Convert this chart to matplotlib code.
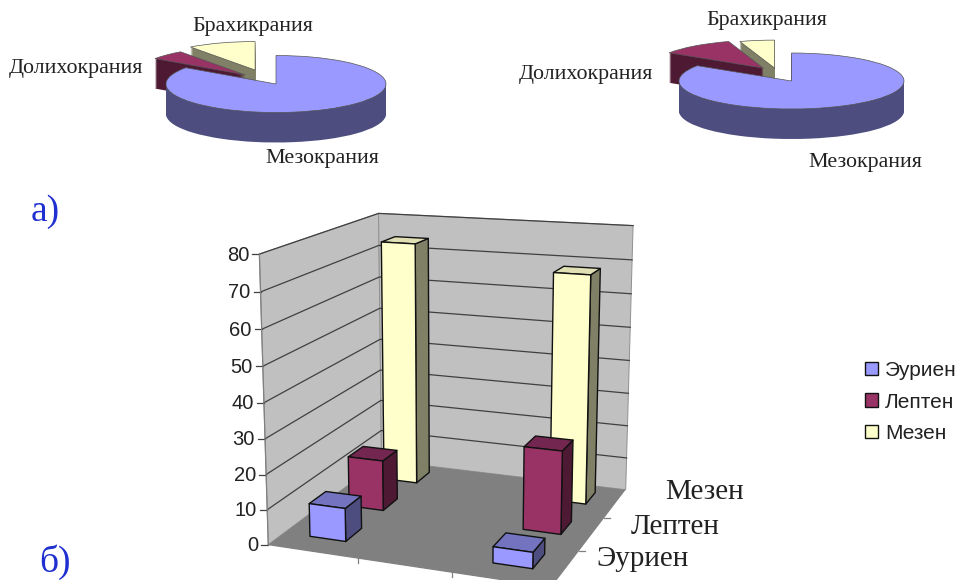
import numpy as np
import matplotlib
matplotlib.use('Agg')
import matplotlib.pyplot as plt
from matplotlib.patches import Patch, Polygon

# pie data, share of each type in percent
pie_labels = ['Мезокрания', 'Долихокрания', 'Брахикрания']
pie_left = [84.7, 5.3, 10.0]
pie_right = [84.2, 10.8, 5.0]

# 3d bars
groups = [0, 1, 2]
series_names = ['Эуриен', 'Лептен', 'Мезен']
euryen = [9.5, 0, 4.5]
lepten = [15, 0, 24]
mezen = [74, 0, 68]
z_ticks = [0, 10, 20, 30, 40, 50, 60, 70, 80]

W, H = 955, 580
SERIF = 'Liberation Serif'
SANS = 'Liberation Sans'
PIE_COLORS = ['#9999FF', '#993366', '#FFFFCC']
SIDE_COLORS = ['#4D4D80', '#4D1933', '#808066']
TOP_COLORS = ['#7373BF', '#732650', '#E0E0B4']
INK = '#222222'
BLUE_INK = '#1F2FD0'

fig = plt.figure(figsize=(W / 100, H / 100), dpi=100)
ax = fig.add_axes([0, 0, 1, 1])
ax.set_xlim(0, W)
ax.set_ylim(H, 0)
ax.axis('off')


def draw_pie(values, cx, cy, rx, ry, depth, offsets):
    pa = fig.add_axes([0, 0, 1, 1], zorder=2)
    pa.patch.set_alpha(0)

    def layer(dy, colors, edge, lw):
        wedges, _ = pa.pie(values, startangle=90, counterclock=False, colors=colors,
                           wedgeprops=dict(edgecolor=edge, linewidth=lw))
        for w, off in zip(wedges, offsets):
            w.set_center((off[0], off[1] - dy))

    for step in np.arange(depth, 0, -1.0):
        layer(step / ry, SIDE_COLORS, 'none', 0)
    layer(0, PIE_COLORS, '#555555', 0.5)

    pa.set_aspect('auto')
    pa.set_xlim(-cx / rx, (W - cx) / rx)
    pa.set_ylim(-(H - cy) / ry, cy / ry)
    pa.axis('off')


draw_pie(pie_left, 276, 84, 110, 28.5, 30, [(0, 0), (-0.28, 0.32), (-0.19, 0.49)])
draw_pie(pie_right, 791.5, 81, 112.5, 28, 30, [(0, 0), (-0.25, 0.46), (-0.15, 0.46)])

label_x = [322, 76, 253, 865, 586, 767]
label_y = [158, 68, 26, 163, 74, 21]
for txt, x, y in zip(pie_labels * 2, label_x, label_y):
    ax.text(x, y, txt, family=SERIF, fontsize=15.8, color=INK, ha='center', va='center', zorder=5)

ax.text(45, 212, 'а)', family=SERIF, fontsize=27, color=BLUE_INK, ha='center', va='center')
ax.text(55, 562, 'б)', family=SERIF, fontsize=27, color=BLUE_INK, ha='center', va='center')

# projection of the 3d box (u along groups, v along series, z up) fitted on its corners
corners = [((0, 0, 0), (270, 543)), ((0, 1, 0), (380, 463)), ((1, 1, 0), (627, 486)),
           ((1, 0, 0), (550, 590)), ((0, 0, 1), (259, 253)), ((0, 1, 1), (379, 213)),
           ((1, 1, 1), (633, 227))]
A, b = [], []
for (u, v, z), (px, py) in corners:
    A.append([u, v, z, 1, 0, 0, 0, 0, -px * u, -px * v, -px * z])
    A.append([0, 0, 0, 0, u, v, z, 1, -py * u, -py * v, -py * z])
    b += [px, py]
m = np.linalg.lstsq(np.array(A, float), np.array(b, float), rcond=None)[0]


def proj(u, v, val):
    z = val / z_ticks[-1]
    w = m[8] * u + m[9] * v + m[10] * z + 1
    return ((m[0] * u + m[1] * v + m[2] * z + m[3]) / w,
            (m[4] * u + m[5] * v + m[6] * z + m[7]) / w)


def face(pts, color, zo=1, ec='none', lw=0):
    ax.add_patch(Polygon([proj(*p) for p in pts], closed=True, facecolor=color,
                         edgecolor=ec, linewidth=lw, zorder=zo, joinstyle='round'))


top = z_ticks[-1]
face([(0, 0, 0), (0, 1, 0), (0, 1, top), (0, 0, top)], '#C0C0C0', ec='#909090', lw=0.7)
face([(0, 1, 0), (1, 1, 0), (1, 1, top), (0, 1, top)], '#C0C0C0', ec='#909090', lw=0.7)
face([(0, 0, 0), (1, 0, 0), (1, 1, 0), (0, 1, 0)], '#808080')

for t in z_ticks:
    line = [proj(0, 0, t), proj(0, 1, t), proj(1, 1, t)]
    if t > 0:
        ax.plot(*zip(*line), color='#404040', lw=0.9, zorder=1.5)
    x0, y0 = proj(0, 0, t)
    ax.plot([x0 - 7, x0], [y0, y0], color='#404040', lw=0.9, zorder=1.5)
    ax.text(x0 - 10, y0 + 1, str(t), family=SANS, fontsize=14.5, color=INK, ha='right', va='center')

ax.plot(*zip(proj(0, 0, 0), proj(0, 0, top)), color='#808080', lw=0.9, zorder=1.5)
ax.plot(*zip(proj(0, 0, 0), proj(1, 0, 0)), color='#808080', lw=0.9, zorder=1.5)
for f in [1 / 3, 2 / 3]:
    x0, y0 = proj(f, 0, 0)
    ax.plot([x0, x0], [y0, y0 + 5], color='#808080', lw=0.9, zorder=1.5)
    x0, y0 = proj(1, f, 0)
    ax.plot([x0, x0 + 6], [y0, y0], color='#808080', lw=0.9, zorder=1.5)

for txt, x, y in zip(series_names, [642, 675, 704], [559, 527, 492]):
    ax.text(x, y, txt, family=SERIF, fontsize=21, color=INK, ha='center', va='center')

HALF = 0.068
values = [euryen, lepten, mezen]
zo = 2.0
for g in groups:
    uc = (g + 0.5) / len(groups)
    for s in reversed(range(len(series_names))):
        val = values[s][g]
        if val == 0:
            continue
        vc = (s + 0.5) / len(series_names) + 0.025
        u0, u1, v0, v1 = uc - HALF, uc + HALF, vc - HALF, vc + HALF
        face([(u1, v0, 0), (u1, v1, 0), (u1, v1, val), (u1, v0, val)], SIDE_COLORS[s], zo, '#111111', 1.0)
        face([(u0, v0, val), (u1, v0, val), (u1, v1, val), (u0, v1, val)], TOP_COLORS[s], zo, '#111111', 1.0)
        face([(u0, v0, 0), (u1, v0, 0), (u1, v0, val), (u0, v0, val)], PIE_COLORS[s], zo, '#111111', 1.0)
        zo += 0.01

handles = [Patch(facecolor=c, edgecolor='#111111', linewidth=1) for c in PIE_COLORS]
leg = ax.legend(handles, series_names, loc='upper left', bbox_to_anchor=(865 / W, 1 - 361 / H),
                bbox_transform=fig.transFigure, frameon=False, handlelength=0.62,
                handleheight=0.62, handletextpad=0.33, labelspacing=0.6, borderpad=0, borderaxespad=0,
                prop=dict(family=SANS, size=15))
for t in leg.get_texts():
    t.set_color(INK)

fig.savefig('out.png', dpi=100)
